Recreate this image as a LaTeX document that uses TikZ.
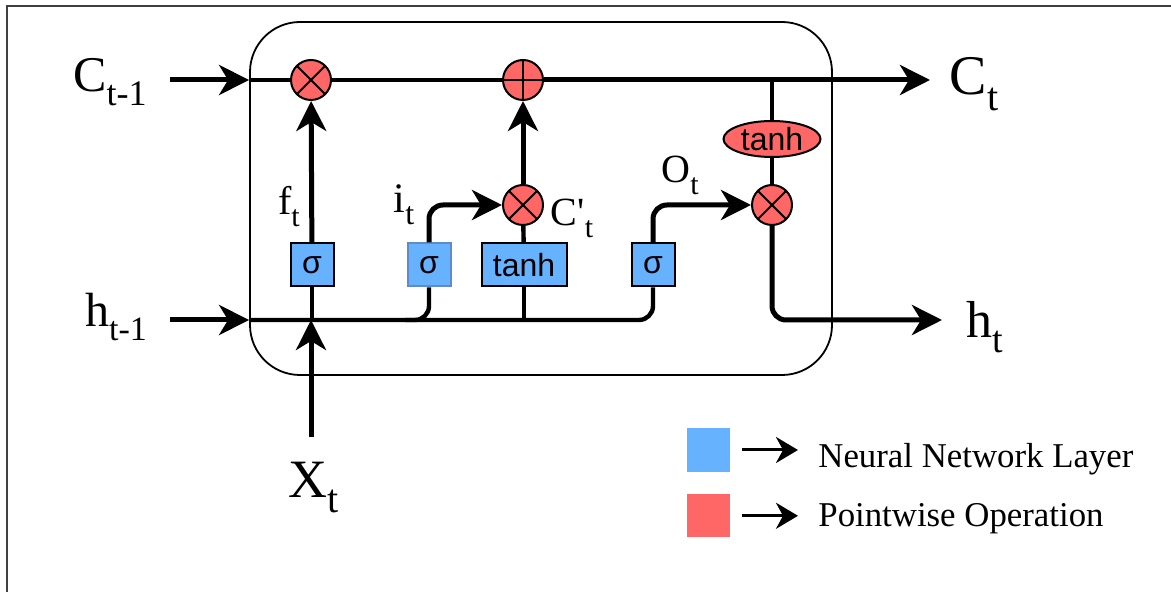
\documentclass[tikz,border=0pt]{standalone}
\usepackage{fontspec}
\setmainfont{Liberation Serif}
\newfontfamily\arialfont{Liberation Sans}
\usepackage{xcolor}
\usetikzlibrary{arrows.meta,positioning,shapes.geometric}
\definecolor{layerblue}{HTML}{66B2FF}
\definecolor{opred}{HTML}{FF6666}
\definecolor{isigborder}{RGB}{95,140,200}
\newcommand{\lsub}[3]{#1\raisebox{-0.28em}{\fontsize{#3}{#3}\selectfont #2}}

\begin{document}
\begin{tikzpicture}[
  x=0.5pt,y=-0.5pt,
  cellbox/.style={draw,line width=0.9pt,rounded corners=25pt,minimum width=291pt,
              minimum height=176.5pt},
  layer/.style={draw,line width=1pt,fill=layerblue,minimum width=21.5pt,
              minimum height=21.5pt,inner sep=0pt,font=\arialfont\fontsize{16}{16}\selectfont},
  mult/.style={circle,draw,line width=1pt,fill=opred,minimum size=20pt,inner sep=0pt,
              path picture={\draw[line width=1pt] (path picture bounding box.center) ++(45:11pt) -- ++(225:22pt);
                            \draw[line width=1pt] (path picture bounding box.center) ++(135:11pt) -- ++(315:22pt);}},
  plus/.style={circle,draw,line width=1pt,fill=opred,minimum size=20pt,inner sep=0pt,
              path picture={\draw[line width=1pt] (path picture bounding box.center) ++(0,11pt) -- ++(0,-22pt);
                            \draw[line width=1pt] (path picture bounding box.center) ++(-11pt,0) -- ++(22pt,0);}},
  tanhop/.style={ellipse,draw,line width=1pt,fill=opred,minimum width=48.5pt,minimum height=18pt,
              inner sep=0pt,font=\arialfont\fontsize{16}{16}\selectfont},
  legsq/.style={minimum width=21.5pt,minimum height=21.5pt,inner sep=0pt},
  legtxt/.style={anchor=base west,inner sep=0pt,font=\fontsize{17.4}{17.4}\selectfont},
  wire/.style={line width=2.2pt},
  arr/.style={-{Stealth[length=15pt,width=15pt,inset=4.5pt]},line width=2.5pt},
  legarr/.style={-{Stealth[length=11pt,width=13pt,inset=3.5pt]},line width=1.5pt}
]
\useasboundingbox (0,0) rectangle (1171,592);
\draw[line width=1pt,black!75] (7,592) -- (7,6) -- (1171,6);

\node[cellbox] (cell) at (541,198.5) {};

\node[mult] (fmul) at (311,80) {};
\node[plus] (add) at (523,80) {};
\node[mult] (imul) at (523,205) {};
\node[mult] (omul) at (772,205) {};
\node[tanhop] (otanh) at (772,139) {tanh};
\node[layer] (fsig) at (312,265) {σ};
\node[layer,draw=isigborder] (isig) at (429,265) {σ};
\node[layer,minimum width=42.5pt] (ctanh) at (524,265) {tanh};
\node[layer] (osig) at (653,265) {σ};

\coordinate (cin) at (170,80);
\coordinate (cout) at (930,80);
\coordinate (hin) at (170,320);
\coordinate (hout) at (942,320);
\coordinate (xin) at (311,437);

\node[anchor=base,font=\fontsize{25}{25}\selectfont] (cprev) at (110,92) {\lsub{C}{t-1}{18}};
\node[anchor=base,font=\fontsize{24}{24}\selectfont] (hprev) at (116,327) {\lsub{h}{t-1}{17}};
\node[anchor=base,font=\fontsize{28}{28}\selectfont] (cnext) at (974,95) {\lsub{C}{t}{20}};
\node[anchor=base,font=\fontsize{26}{26}\selectfont] (hnext) at (985,338) {\lsub{h}{t}{19}};
\node[anchor=base,font=\fontsize{27}{27}\selectfont] (xt) at (314,497) {\lsub{X}{t}{20}};
\node[anchor=base,font=\fontsize{20}{20}\selectfont] (ft) at (289,215) {\lsub{f}{t}{15}};
\node[anchor=base,font=\fontsize{21}{21}\selectfont] (it) at (404,213) {\lsub{i}{t}{16}};
\node[anchor=base,font=\fontsize{20}{20}\selectfont] (cpt) at (572,226) {\lsub{C\textquotesingle}{t}{15}};
\node[anchor=base,font=\fontsize{20}{20}\selectfont] (ot) at (680,183) {\lsub{O}{t}{15}};

\draw[arr] (cin) -- (cin -| cell.west);
\draw[arr] (hin) -- (hin -| cell.west);
\draw[wire] (cin -| cell.west) -- (fmul);
\draw[wire] (fmul) -- (add);
\draw[arr] (add) -- (cout);

\draw[wire] (otanh |- cin) -- (otanh);
\draw[wire] (otanh) -- (omul);
\draw[arr,rounded corners=7pt] (omul) |- (hout);

\draw[wire,rounded corners=7pt] (hin -| cell.west) -| (osig.south);
\draw[arr,rounded corners=7pt] (osig.north) |- (omul);

\draw[wire,rounded corners=7pt] ([xshift=-12pt]isig |- hin) -| (isig.south);
\draw[arr,rounded corners=7pt] (isig.north) |- (imul);

\draw[wire] (fsig |- hin) -- (fsig.south);
\draw[arr] (fsig) -- (fmul);
\draw[arr] (xin) -- (xin |- hin);

\draw[wire] (ctanh |- hin) -- (ctanh);
\draw[wire] (ctanh) -- (imul);
\draw[arr] (imul) -- (add);

\node[legsq,fill=layerblue] (lblue) at (708,450) {};
\node[legsq,fill=opred,below=11pt of lblue] (lred) {};
\node[legtxt] (nnl) at (818,467) {Neural Network Layer};
\node[legtxt] (pwo) at (818,526) {Pointwise Operation};
\draw[legarr] ([xshift=6pt]lblue.east) -- ([xshift=-10pt]nnl.west |- lblue.east);
\draw[legarr] ([xshift=6pt]lred.east) -- ([xshift=-10pt]pwo.west |- lred.east);
\end{tikzpicture}
\end{document}
